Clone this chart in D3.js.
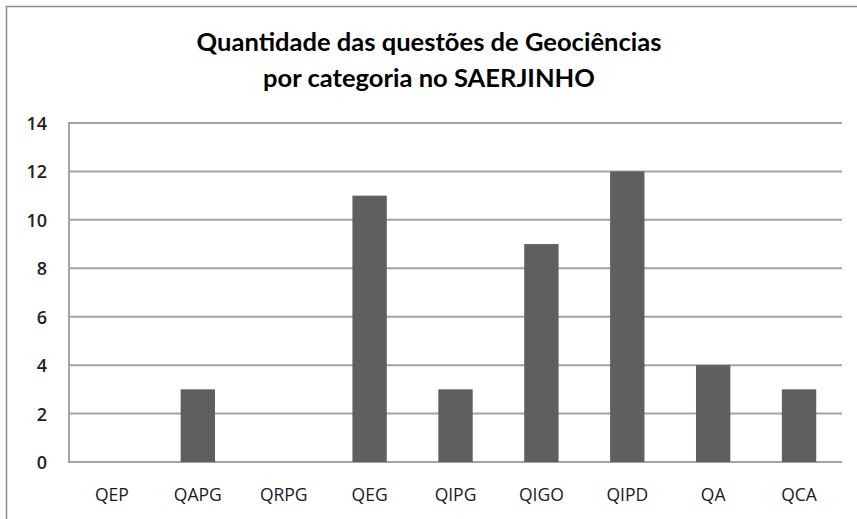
<!DOCTYPE html>
<html>
<head>
<meta charset="utf-8">
<script src="https://cdn.jsdelivr.net/npm/d3@7"></script>
<style>
  html, body { margin: 0; padding: 0; background: #fff; }
  svg { display: block; }
</style>
</head>
<body>
<script>
// chart data
var categories = ["QEP", "QAPG", "QRPG", "QEG", "QIPG", "QIGO", "QIPD", "QA", "QCA"];
var counts = [0, 3, 0, 11, 3, 9, 12, 4, 3];
var yTicks = [0, 2, 4, 6, 8, 10, 12, 14];
var titleLines = ["Quantidade das questões de Geociências", "por categoria no SAERJINHO"];

var width = 857, height = 519;
var plot = {left: 69, right: 842, top: 123, bottom: 462};

var svg = d3.select("body").append("svg")
    .attr("width", width)
    .attr("height", height);

// outer chart frame (only top and left edges show)
svg.append("path")
    .attr("d", "M6.5,519 V6.5 H857")
    .attr("fill", "none")
    .attr("stroke", "#8c8c8c")
    .attr("stroke-width", 1.5);

var x = d3.scaleBand()
    .domain(categories)
    .range([plot.left, plot.right])
    .paddingInner(0.6)
    .paddingOuter(0.3);

var y = d3.scaleLinear()
    .domain([0, 14])
    .range([plot.bottom, plot.top]);

// gridlines
svg.append("g")
    .selectAll("line")
    .data(yTicks)
    .enter()
    .append("line")
    .attr("x1", plot.left)
    .attr("x2", plot.right)
    .attr("y1", function (d) { return y(d); })
    .attr("y2", function (d) { return y(d); })
    .attr("stroke", "#a3a3a3")
    .attr("stroke-width", 2);

// left axis line
svg.append("line")
    .attr("x1", plot.left).attr("x2", plot.left)
    .attr("y1", plot.top - 1).attr("y2", plot.bottom + 1)
    .attr("stroke", "#a3a3a3")
    .attr("stroke-width", 2);

// bars
svg.append("g")
    .selectAll("rect")
    .data(counts)
    .enter()
    .append("rect")
    .attr("x", function (d, i) { return x(categories[i]); })
    .attr("width", x.bandwidth())
    .attr("y", function (d) { return y(d); })
    .attr("height", function (d) { return y(0) - y(d); })
    .attr("fill", "#5f5f5f");

// y tick labels
var yAxis = svg.append("g")
    .attr("transform", "translate(" + (plot.left - 22) + ",0)")
    .call(d3.axisLeft(y).tickValues(yTicks).tickSize(0).tickPadding(0));
yAxis.select(".domain").remove();
yAxis.selectAll("text")
    .attr("dy", "0.36em")
    .style("font-family", "Open Sans, sans-serif")
    .style("font-size", "18px")
    .style("font-weight", "600")
    .attr("fill", "#222");

// x labels
var xAxis = svg.append("g")
    .attr("transform", "translate(0," + plot.bottom + ")")
    .call(d3.axisBottom(x).tickSize(0));
xAxis.select(".domain").remove();
xAxis.selectAll("text")
    .attr("y", 39)
    .attr("dy", 0)
    .style("font-family", "Open Sans, sans-serif")
    .style("font-size", "17.5px")
    .attr("fill", "#1a1a2a");

// title
var title = svg.append("g")
    .selectAll("text")
    .data(titleLines)
    .enter()
    .append("text")
    .attr("x", 429)
    .attr("y", function (d, i) { return 51 + i * 36; })
    .attr("text-anchor", "middle")
    .style("font-family", "Lato, sans-serif")
    .style("font-weight", "bold")
    .style("font-size", "21px")
    .attr("fill", "#000")
    .text(function (d) { return d; });

// scale the title font so the first line spans like the original
var w0 = title.node().getComputedTextLength();
title.style("font-size", (21 * 465 / w0).toFixed(2) + "px");
</script>
</body>
</html>
